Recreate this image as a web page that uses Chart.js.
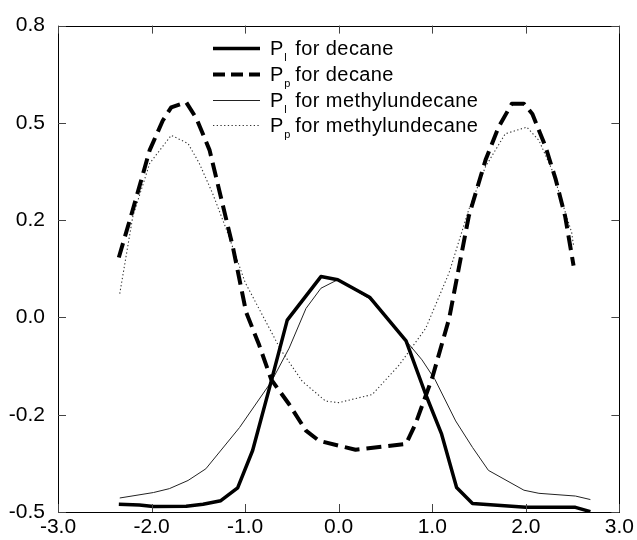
<!DOCTYPE html>
<html>
<head>
<meta charset="utf-8">
<script src="https://cdn.jsdelivr.net/npm/chart.js@4.4.1/dist/chart.umd.min.js"></script>
<style>
html,body{margin:0;padding:0;background:#fff;}
#wrap{width:637px;height:540px;}
</style>
</head>
<body>
<div id="wrap"><canvas id="c" width="637" height="540"></canvas></div>
<script>
// ---- data ----
const decanePlX = [-2.35, -2.13, -1.98, -1.63, -1.45, -1.26, -1.08, -0.92, -0.74, -0.55, -0.19, -0.01, 0.33, 0.72, 0.93, 1.10, 1.26, 1.43, 2.00, 2.53, 2.69];
const decanePlY = [-0.480, -0.482, -0.486, -0.485, -0.480, -0.471, -0.438, -0.342, -0.181, -0.007, 0.105, 0.097, 0.052, -0.060, -0.198, -0.300, -0.437, -0.478, -0.488, -0.488, -0.499];

const decanePpX = [-2.35, -2.20, -2.02, -1.88, -1.79, -1.63, -1.52, -1.38, -1.13, -0.99, -0.85, -0.72, -0.53, -0.35, -0.21, 0.18, 0.72, 0.82, 1.00, 1.18, 1.39, 1.57, 1.71, 1.85, 1.98, 2.07, 2.21, 2.32, 2.42, 2.51];
const decanePpY = [0.154, 0.277, 0.430, 0.506, 0.540, 0.553, 0.511, 0.430, 0.180, 0.014, -0.071, -0.160, -0.223, -0.291, -0.317, -0.340, -0.325, -0.274, -0.155, -0.003, 0.260, 0.405, 0.490, 0.549, 0.549, 0.523, 0.439, 0.354, 0.260, 0.133];

const methylPlX = [-2.34, -1.98, -1.81, -1.61, -1.42, -1.06, -0.72, -0.53, -0.35, -0.19, -0.01, 0.33, 0.72, 0.89, 1.03, 1.25, 1.43, 1.60, 1.98, 2.14, 2.53, 2.69];
const methylPlY = [-0.464, -0.450, -0.440, -0.419, -0.389, -0.283, -0.165, -0.079, 0.023, 0.075, 0.097, 0.048, -0.060, -0.109, -0.160, -0.266, -0.334, -0.393, -0.444, -0.452, -0.459, -0.468];

const methylPpX = [-2.34, -2.20, -2.02, -1.79, -1.61, -1.49, -1.35, -1.20, -1.00, -0.62, -0.39, -0.14, 0.00, 0.36, 0.65, 0.93, 1.18, 1.39, 1.57, 1.78, 2.01, 2.14, 2.28, 2.49, 2.51];
const methylPpY = [0.061, 0.260, 0.396, 0.468, 0.447, 0.396, 0.320, 0.226, 0.090, -0.083, -0.164, -0.215, -0.219, -0.198, -0.121, -0.028, 0.115, 0.277, 0.388, 0.472, 0.489, 0.455, 0.379, 0.218, 0.184];

const xTickValues = [-3, -2, -1, 0, 1, 2, 3];
const xTickLabels = ['-3.0', '-2.0', '-1.0', '0.0', '1.0', '2.0', '3.0'];
const yTickValues = [-0.5, -0.25, 0, 0.25, 0.5, 0.75];
const yTickLabels = ['-0.5', '-0.2', '0.0', '0.2', '0.5', '0.8'];

const legendMain = ['P', 'P', 'P', 'P'];
const legendSub = ['l', 'p', 'l', 'p'];
const legendRest = ['for decane', 'for decane', 'for methylundecane', 'for methylundecane'];

const FONT = '"Liberation Sans", Arial, Helvetica, sans-serif';

function pts(xs, ys) { return xs.map((x, i) => ({ x: x, y: ys[i] })); }

const datasets = [
  { data: pts(decanePlX, decanePlY), borderColor: '#000', borderWidth: 3.5, borderDash: [] },
  { data: pts(decanePpX, decanePpY), borderColor: '#000', borderWidth: 4, borderDash: [15, 7] },
  { data: pts(methylPlX, methylPlY), borderColor: '#222', borderWidth: 1, borderDash: [] },
  { data: pts(methylPpX, methylPpY), borderColor: '#333', borderWidth: 1.1, borderDash: [1.3, 2.4] }
].map(d => Object.assign(d, { showLine: true, pointRadius: 0, fill: false, tension: 0, borderJoinStyle: 'round', borderCapStyle: 'butt' }));

const framePlugin = {
  id: 'frame',
  afterDraw(chart) {
    const ctx = chart.ctx, a = chart.chartArea;
    const xs = chart.scales.x, ys = chart.scales.y;
    ctx.save();
    ctx.strokeStyle = '#000';
    ctx.lineWidth = 1;
    ctx.strokeRect(Math.round(a.left) + 0.5, Math.round(a.top) + 0.5, Math.round(a.right - a.left), Math.round(a.bottom - a.top));
    ctx.strokeStyle = '#444';
    const tl = 8;
    ctx.beginPath();
    yTickValues.forEach(v => {
      const py = Math.round(ys.getPixelForValue(v)) + 0.5;
      ctx.moveTo(a.left, py); ctx.lineTo(a.left + tl, py);
      ctx.moveTo(a.right, py); ctx.lineTo(a.right - tl, py);
    });
    xTickValues.forEach(v => {
      const px = Math.round(xs.getPixelForValue(v)) + 0.5;
      ctx.moveTo(px, a.bottom); ctx.lineTo(px, a.bottom - tl);
      ctx.moveTo(px, a.top); ctx.lineTo(px, a.top + tl);
    });
    ctx.stroke();

    // legend
    const lx0 = 213, lx1 = 260, tx = 270, y0 = 48, dy = 25.8;
    chart.data.datasets.forEach((ds, i) => {
      const y = Math.round(y0 + i * dy) + 0.5;
      ctx.beginPath();
      ctx.strokeStyle = ds.borderColor;
      ctx.lineWidth = ds.borderWidth;
      ctx.setLineDash(i === 1 ? [12, 6] : (ds.borderDash || []));
      ctx.moveTo(lx0, y); ctx.lineTo(lx1, y);
      ctx.stroke();
      ctx.setLineDash([]);
      ctx.fillStyle = '#000';
      ctx.textBaseline = 'middle';
      ctx.textAlign = 'left';
      ctx.font = '20px ' + FONT;
      ctx.fillText(legendMain[i], tx, y + 1);
      const pw = ctx.measureText(legendMain[i]).width;
      ctx.font = '11px ' + FONT;
      ctx.fillText(legendSub[i], tx + pw + 1, y + 9);
      ctx.font = '20px ' + FONT;
      try { ctx.letterSpacing = '0.4px'; } catch (e) {}
      ctx.fillText(legendRest[i], tx + pw + 12, y + 1);
      try { ctx.letterSpacing = '0px'; } catch (e) {}
    });
    ctx.restore();
  }
};

new Chart(document.getElementById('c'), {
  type: 'scatter',
  data: { datasets: datasets },
  options: {
    responsive: false,
    animation: false,
    layout: { padding: { top: 21, right: 16, left: 0, bottom: 0 } },
    plugins: { legend: { display: false }, tooltip: { enabled: false } },
    scales: {
      x: {
        type: 'linear', min: -3, max: 3,
        afterBuildTicks(s) { s.ticks = xTickValues.map(v => ({ value: v })); },
        afterFit(s) { s.height = 28; },
        grid: { display: false, drawTicks: false },
        border: { display: false },
        ticks: {
          color: '#000', padding: 3, maxRotation: 0, autoSkip: false,
          font: { family: FONT, size: 21 },
          callback(v) { const i = xTickValues.indexOf(v); return i >= 0 ? xTickLabels[i] : ''; }
        }
      },
      y: {
        type: 'linear', min: -0.5, max: 0.75,
        afterBuildTicks(s) { s.ticks = yTickValues.map(v => ({ value: v })); },
        afterFit(s) { s.width = 58; },
        grid: { display: false, drawTicks: false },
        border: { display: false },
        ticks: {
          color: '#000', padding: 13, autoSkip: false,
          font: { family: FONT, size: 21 },
          callback(v) { const i = yTickValues.indexOf(v); return i >= 0 ? yTickLabels[i] : ''; }
        }
      }
    }
  },
  plugins: [framePlugin]
});
</script>
</body>
</html>
